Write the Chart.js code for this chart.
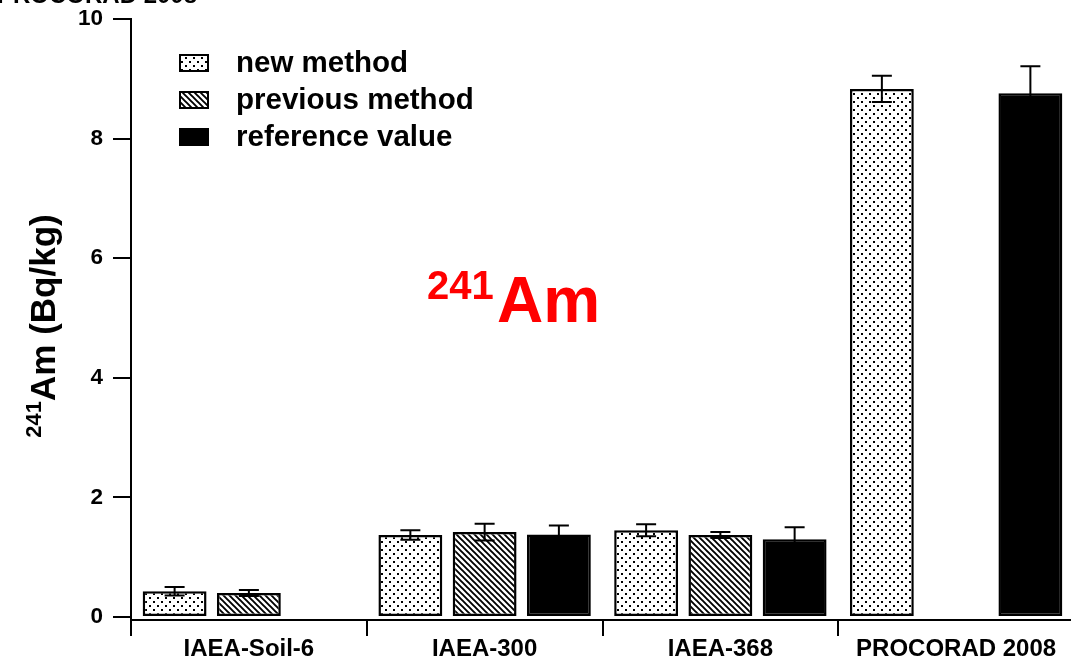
<!DOCTYPE html>
<html><head><meta charset="utf-8">
<script src="https://cdn.jsdelivr.net/npm/chart.js@4"></script>
<style>html,body{margin:0;padding:0;background:#fff;overflow:hidden}#wrap{width:1090px;height:657px;position:relative}</style>
</head><body><div id="wrap"><canvas id="c" width="1090" height="657"></canvas></div>
<script>
const categories = ['IAEA-Soil-6', 'IAEA-300', 'IAEA-368', 'PROCORAD 2008'];
const seriesNames = ['new method', 'previous method', 'reference value'];
const newMethod = [0.43, 1.37, 1.45, 8.83];
const newMethodErr = [0.07, 0.08, 0.10, 0.22];
const previousMethod = [0.40, 1.42, 1.37, null];
const previousMethodErr = [0.05, 0.14, 0.05, null];
const referenceValue = [null, 1.38, 1.30, 8.76];
const referenceValueErr = [null, 0.15, 0.20, 0.45];
const yTicks = [0, 2, 4, 6, 8, 10];

const FONT = '"Liberation Sans", Arial, Helvetica, sans-serif';

function dotPattern() {
  const w = 8, h = 8;
  const c = document.createElement('canvas'); c.width = w; c.height = h;
  const g = c.getContext('2d');
  g.fillStyle = '#fff'; g.fillRect(0, 0, w, h);
  g.fillStyle = '#000';
  g.fillRect(1, 1, 2, 2); g.fillRect(5, 5, 2, 2);
  return g.createPattern(c, 'repeat');
}
function hatchPattern() {
  const s = 6;
  const c = document.createElement('canvas'); c.width = s; c.height = s;
  const g = c.getContext('2d');
  g.fillStyle = '#fff'; g.fillRect(0, 0, s, s);
  g.strokeStyle = '#000'; g.lineWidth = 1.9;
  g.beginPath();
  g.moveTo(-1, -1); g.lineTo(s + 1, s + 1);
  g.moveTo(-1, s - 1); g.lineTo(1, s + 1);
  g.moveTo(s - 1, -1); g.lineTo(s + 1, 1);
  g.stroke();
  return g.createPattern(c, 'repeat');
}
const pDots = dotPattern();
const pHatch = hatchPattern();
const fills = [pDots, pHatch, '#000'];
const errs = [newMethodErr, previousMethodErr, referenceValueErr];

const errorBars = {
  id: 'errorBars',
  afterDatasetsDraw(chart) {
    const ctx = chart.ctx, y = chart.scales.y;
    ctx.save();
    ctx.strokeStyle = '#000'; ctx.lineWidth = 2;
    chart.data.datasets.forEach((ds, i) => {
      const meta = chart.getDatasetMeta(i);
      meta.data.forEach((bar, j) => {
        const v = ds.data[j], e = errs[i][j];
        if (v == null || e == null) return;
        const x = bar.x, yt = y.getPixelForValue(v + e), yb = y.getPixelForValue(v - e);
        const hw = 10;
        ctx.beginPath();
        ctx.moveTo(x, yt); ctx.lineTo(x, yb);
        ctx.moveTo(x - hw, yt); ctx.lineTo(x + hw, yt);
        ctx.moveTo(x - hw, yb); ctx.lineTo(x + hw, yb);
        ctx.stroke();
      });
    });
    ctx.restore();
  }
};

const decorations = {
  id: 'decorations',
  afterDraw(chart) {
    const ctx = chart.ctx;
    ctx.save();
    // cut-off text at top left
    ctx.fillStyle = '#000';
    ctx.font = 'bold 24px ' + FONT;
    ctx.textBaseline = 'alphabetic'; ctx.textAlign = 'left';
    ctx.fillText('PROCORAD 2008', -3, 3);
    // legend
    const rows = [63, 100, 137];
    ctx.font = 'bold 29.5px ' + FONT;
    ctx.textBaseline = 'middle';
    seriesNames.forEach((n, i) => {
      const y = rows[i];
      ctx.fillStyle = fills[i];
      ctx.fillRect(180, y - 8, 28, 16);
      ctx.strokeStyle = '#000'; ctx.lineWidth = 2;
      ctx.strokeRect(180, y - 8, 28, 16);
      ctx.fillStyle = '#000';
      ctx.fillText(n, 236, y + 1);
    });
    // red annotation
    ctx.fillStyle = '#ff0000';
    ctx.textBaseline = 'alphabetic';
    ctx.font = 'bold 40px ' + FONT;
    ctx.fillText('241', 427, 299);
    ctx.font = 'bold 64px ' + FONT;
    ctx.fillText('Am', 497, 322);
    // y-axis title
    ctx.fillStyle = '#000';
    ctx.translate(55, 326);
    ctx.rotate(-Math.PI / 2);
    ctx.font = 'bold 22px ' + FONT;
    const w1 = ctx.measureText('241').width;
    ctx.font = 'bold 35px ' + FONT;
    const w2 = ctx.measureText('Am (Bq/kg)').width;
    const start = -(w1 + w2) / 2;
    ctx.font = 'bold 22px ' + FONT;
    ctx.fillText('241', start, -14);
    ctx.font = 'bold 35px ' + FONT;
    ctx.fillText('Am (Bq/kg)', start + w1, 0);
    ctx.restore();
  }
};

new Chart(document.getElementById('c'), {
  type: 'bar',
  data: {
    labels: categories,
    datasets: [
      { label: seriesNames[0], data: newMethod, backgroundColor: pDots },
      { label: seriesNames[1], data: previousMethod, backgroundColor: pHatch },
      { label: seriesNames[2], data: referenceValue, backgroundColor: '#000' }
    ]
  },
  options: {
    responsive: false,
    animation: false,
    events: [],
    layout: { padding: { left: 0, right: 16, top: 19, bottom: 0 } },
    datasets: { bar: { borderColor: '#000', borderWidth: 2.5, borderSkipped: false, categoryPercentage: 0.945, barPercentage: 0.86 } },
    plugins: { legend: { display: false }, tooltip: { enabled: false } },
    scales: {
      x: {
        offset: true,
        grid: { offset: true, drawOnChartArea: false, tickLength: 16, color: '#000', lineWidth: 2 },
        border: { color: '#000', width: 2 },
        ticks: { color: '#000', font: { family: FONT, size: 24, weight: 'bold', lineHeight: 1 }, padding: 1, maxRotation: 0, autoSkip: false },
        afterFit(s) { s.height = 37; s.paddingLeft = 0; s.paddingRight = 0; }
      },
      y: {
        min: -0.05, max: 10,
        afterBuildTicks(s) { s.ticks = yTicks.map(v => ({ value: v })); },
        grid: { drawOnChartArea: false, tickLength: 18, color: '#000', lineWidth: 2 },
        border: { color: '#000', width: 2 },
        ticks: { color: '#000', font: { family: FONT, size: 22.5, weight: 'bold' }, padding: 10 },
        afterFit(s) { s.width = 131; s.paddingTop = 0; s.paddingBottom = 0; }
      }
    }
  },
  plugins: [errorBars, decorations]
});
</script>
</body></html>
